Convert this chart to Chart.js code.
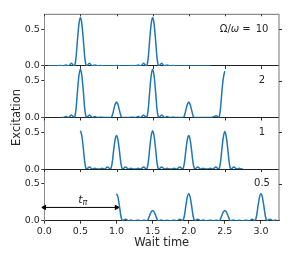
<!DOCTYPE html>
<html>
<head>
<meta charset="utf-8">
<script src="https://cdn.jsdelivr.net/npm/chart.js@4.4.0/dist/chart.umd.min.js"></script>
<style>
  body { margin: 0; background: #fff; }
  #wrap { position: relative; width: 291px; height: 262px; }
</style>
</head>
<body>
<div id="wrap"><canvas id="chart" width="291" height="262"></canvas></div>
<script>
// Omega/omega ratio for each panel, top to bottom
const panelLabels = ["10", "2", "1", "0.5"];
const xTicks = [0, 0.5, 1.0, 1.5, 2.0, 2.5, 3.0];

// panel 1: Omega/omega = 10
const panel1X = [0.05, 0.18, 0.22, 0.26, 0.3, 0.335, 0.375, 0.415, 0.425, 0.44, 0.46, 0.48, 0.5, 0.52, 0.54, 0.56, 0.575, 0.585, 0.625, 0.665, 0.7, 0.74, 0.78, 0.82, 0.95, 1.0, 1.05, 1.18, 1.22, 1.26, 1.3, 1.335, 1.375, 1.415, 1.425, 1.44, 1.46, 1.48, 1.5, 1.52, 1.54, 1.56, 1.575, 1.585, 1.625, 1.665, 1.7, 1.74, 1.78, 1.82, 2.3];
const panel1Y = [0, 0, 0.005, 0, 0.012, 0, 0.035, 0, 0.02, 0.12, 0.36, 0.57, 0.655, 0.57, 0.36, 0.12, 0.02, 0, 0.035, 0, 0.012, 0, 0.005, 0, 0, 0.004, 0, 0, 0.005, 0, 0.012, 0, 0.035, 0, 0.02, 0.12, 0.36, 0.57, 0.655, 0.57, 0.36, 0.12, 0.02, 0, 0.035, 0, 0.012, 0, 0.005, 0, 0];

// panel 2: Omega/omega = 2
const panel2X = [0.24, 0.26, 0.3, 0.335, 0.375, 0.415, 0.425, 0.44, 0.46, 0.48, 0.5, 0.52, 0.54, 0.56, 0.575, 0.585, 0.625, 0.665, 0.7, 0.74, 0.78, 0.82, 0.925, 0.94, 0.96, 0.98, 1.0, 1.02, 1.04, 1.06, 1.075, 1.18, 1.22, 1.26, 1.3, 1.335, 1.375, 1.415, 1.425, 1.44, 1.46, 1.48, 1.5, 1.52, 1.54, 1.56, 1.575, 1.585, 1.625, 1.665, 1.7, 1.74, 1.78, 1.82, 1.925, 1.94, 1.96, 1.98, 2.0, 2.02, 2.04, 2.06, 2.075, 2.3, 2.34, 2.38, 2.415, 2.425, 2.44, 2.46, 2.48, 2.5];
const panel2Y = [0, 0, 0.012, 0, 0.035, 0, 0.02, 0.12, 0.36, 0.57, 0.655, 0.57, 0.36, 0.12, 0.02, 0, 0.035, 0, 0.012, 0, 0.005, 0, 0, 0.025, 0.1, 0.175, 0.21, 0.175, 0.1, 0.025, 0, 0, 0.005, 0, 0.012, 0, 0.035, 0, 0.02, 0.12, 0.36, 0.57, 0.655, 0.57, 0.36, 0.12, 0.02, 0, 0.035, 0, 0.012, 0, 0.005, 0, 0, 0.025, 0.1, 0.175, 0.21, 0.175, 0.1, 0.025, 0, 0, 0.008, 0.025, 0, 0.02, 0.12, 0.36, 0.54, 0.63];

// panel 3: Omega/omega = 1
const panel3X = [0.5, 0.52, 0.54, 0.56, 0.575, 0.585, 0.625, 0.665, 0.7, 0.735, 0.765, 0.8, 0.835, 0.875, 0.915, 0.925, 0.94, 0.96, 0.98, 1.0, 1.02, 1.04, 1.06, 1.075, 1.085, 1.125, 1.165, 1.2, 1.235, 1.265, 1.3, 1.335, 1.375, 1.415, 1.425, 1.44, 1.46, 1.48, 1.5, 1.52, 1.54, 1.56, 1.575, 1.585, 1.625, 1.665, 1.7, 1.735, 1.765, 1.8, 1.835, 1.875, 1.915, 1.925, 1.94, 1.96, 1.98, 2.0, 2.02, 2.04, 2.06, 2.075, 2.085, 2.125, 2.165, 2.2, 2.235, 2.265, 2.3, 2.335, 2.375, 2.415, 2.425, 2.44, 2.46, 2.48, 2.5, 2.52, 2.54, 2.56, 2.575, 2.585, 2.625, 2.665, 2.7, 2.735, 2.75];
const panel3Y = [0.52, 0.45, 0.285, 0.095, 0.016, 0, 0.03, 0, 0.01, 0, 0, 0.01, 0, 0.03, 0, 0.014, 0.083, 0.25, 0.395, 0.455, 0.395, 0.25, 0.083, 0.014, 0, 0.03, 0, 0.01, 0, 0, 0.01, 0, 0.03, 0, 0.016, 0.095, 0.285, 0.45, 0.52, 0.45, 0.285, 0.095, 0.016, 0, 0.03, 0, 0.01, 0, 0, 0.01, 0, 0.03, 0, 0.014, 0.083, 0.25, 0.395, 0.455, 0.395, 0.25, 0.083, 0.014, 0, 0.03, 0, 0.01, 0, 0, 0.01, 0, 0.03, 0, 0.016, 0.093, 0.28, 0.44, 0.51, 0.44, 0.28, 0.093, 0.016, 0, 0.03, 0, 0.01, 0, 0];

// panel 4: Omega/omega = 0.5
const panel4X = [1.0, 1.02, 1.04, 1.06, 1.075, 1.085, 1.125, 1.165, 1.2, 1.24, 1.3, 1.34, 1.38, 1.43, 1.44, 1.46, 1.48, 1.5, 1.52, 1.54, 1.56, 1.57, 1.62, 1.66, 1.7, 1.74, 1.8, 1.84, 1.875, 1.915, 1.925, 1.94, 1.96, 1.98, 2.0, 2.02, 2.04, 2.06, 2.075, 2.085, 2.125, 2.165, 2.2, 2.24, 2.3, 2.34, 2.38, 2.43, 2.44, 2.46, 2.48, 2.5, 2.52, 2.54, 2.56, 2.57, 2.62, 2.66, 2.7, 2.74, 2.8, 2.84, 2.875, 2.915, 2.925, 2.94, 2.96, 2.98, 3.0, 3.02, 3.04, 3.06, 3.075, 3.085, 3.125, 3.165, 3.2, 3.22];
const panel4Y = [0.365, 0.32, 0.2, 0.067, 0.011, 0, 0.02, 0, 0.008, 0, 0.005, 0, 0.005, 0, 0.025, 0.075, 0.12, 0.14, 0.12, 0.075, 0.025, 0, 0.008, 0, 0.005, 0, 0.005, 0, 0.02, 0, 0.011, 0.067, 0.2, 0.32, 0.365, 0.32, 0.2, 0.067, 0.011, 0, 0.02, 0, 0.008, 0, 0.005, 0, 0.005, 0, 0.025, 0.075, 0.12, 0.14, 0.12, 0.075, 0.025, 0, 0.008, 0, 0.005, 0, 0.005, 0, 0.02, 0, 0.011, 0.067, 0.2, 0.32, 0.365, 0.32, 0.2, 0.067, 0.011, 0, 0.02, 0, 0.008, 0];

// t_pi arrow in the bottom panel
const arrowX = [0, 1.0];
const arrowY = [0.18, 0.18];

const lineBlue = "#1f77b4";
const textColor = "#262626";
const spineGrey = "#8c8c8c";
const font = "DejaVu Sans";

function toPoints(xs, ys) {
    return xs.map((x, i) => ({ x: x, y: ys[i] }));
}

function panelAxis(order) {
    return {
        type: "linear",
        position: "left",
        stack: "panels",
        stackWeight: 1,
        weight: 4 - order,
        offset: false,
        min: 0,
        max: 0.7,
        ticks: {
            stepSize: 0.5,
            includeBounds: false,
            padding: 1.5,
            color: textColor,
            font: { family: font, size: 9.5 },
            callback: v => v.toFixed(1)
        },
        grid: {
            color: c => (c.tick && c.tick.value === 0) ? "#222" : "rgba(0,0,0,0)",
            tickColor: "#333",
            tickLength: 3,
            lineWidth: 1
        },
        border: { color: spineGrey, width: 1 },
        afterFit: s => { s.width = 44.3; }
    };
}

const decorations = {
    id: "decorations",
    afterDraw(chart) {
        const { ctx, chartArea: a, scales } = chart;
        const xs = scales.x;
        const panels = ["y1", "y2", "y3", "y4"];
        ctx.save();

        // top and right frame
        ctx.strokeStyle = spineGrey;
        ctx.lineWidth = 1.2;
        ctx.beginPath();
        ctx.moveTo(a.left, a.top);
        ctx.lineTo(a.right, a.top);
        ctx.lineTo(a.right, a.bottom);
        ctx.stroke();

        // ticks: right side at 0.5, x ticks below each panel boundary and under the top spine
        ctx.strokeStyle = "#333";
        ctx.lineWidth = 1;
        ctx.beginPath();
        panels.forEach((id, i) => {
            const ys = scales[id];
            const yh = Math.round(ys.getPixelForValue(0.5)) + 0.5;
            ctx.moveTo(a.right, yh);
            ctx.lineTo(a.right + 3, yh);
            if (i < 3) {
                const y0 = ys.getPixelForValue(0);
                xTicks.forEach(t => {
                    const px = Math.round(xs.getPixelForValue(t)) + 0.5;
                    ctx.moveTo(px, y0);
                    ctx.lineTo(px, y0 + 3);
                });
            }
        });
        xTicks.forEach(t => {
            const px = Math.round(xs.getPixelForValue(t)) + 0.5;
            ctx.moveTo(px, a.top);
            ctx.lineTo(px, a.top + 2);
        });
        ctx.stroke();

        // panel labels
        ctx.fillStyle = textColor;
        ctx.textBaseline = "middle";
        panels.forEach((id, i) => {
            const ys = scales[id];
            const y = ys.getPixelForValue(0.5);
            ctx.font = "10px '" + font + "'";
            ctx.textAlign = "center";
            ctx.fillText(panelLabels[i], xs.getPixelForValue(3.015), y);
            if (i === 0) {
                ctx.textAlign = "left";
                let px = xs.getPixelForValue(2.43);
                const parts = [["Ω/", "normal"], ["ω", "italic"], [" =", "normal"]];
                parts.forEach(([txt, style]) => {
                    ctx.font = style + " 10px '" + font + "'";
                    ctx.fillText(txt, px, y);
                    px += ctx.measureText(txt).width;
                });
            }
        });

        // t_pi label
        const y4 = scales.y4;
        let tx = xs.getPixelForValue(0.47);
        const ty = y4.getPixelForValue(0.28);
        ctx.textAlign = "left";
        ctx.font = "italic 11px '" + font + "'";
        ctx.fillText("t", tx, ty);
        tx += ctx.measureText("t").width;
        ctx.font = "italic 8px '" + font + "'";
        ctx.fillText("π", tx, ty + 3);

        // shared y label
        ctx.font = "11.5px '" + font + "'";
        ctx.textAlign = "center";
        ctx.translate(17, (a.top + a.bottom) / 2);
        ctx.rotate(-Math.PI / 2);
        ctx.fillText("Excitation", 0, 0);
        ctx.restore();
    }
};

const lineStyle = {
    borderColor: lineBlue,
    backgroundColor: lineBlue,
    borderWidth: 1.5,
    pointRadius: 0,
    cubicInterpolationMode: "monotone",
    fill: false
};

new Chart(document.getElementById("chart").getContext("2d"), {
    type: "line",
    data: {
        datasets: [
            Object.assign({ label: "10", data: toPoints(panel1X, panel1Y), yAxisID: "y1" }, lineStyle),
            Object.assign({ label: "2", data: toPoints(panel2X, panel2Y), yAxisID: "y2" }, lineStyle),
            Object.assign({ label: "1", data: toPoints(panel3X, panel3Y), yAxisID: "y3" }, lineStyle),
            Object.assign({ label: "0.5", data: toPoints(panel4X, panel4Y), yAxisID: "y4" }, lineStyle),
            {
                label: "t_pi",
                data: toPoints(arrowX, arrowY),
                yAxisID: "y4",
                borderColor: "#000",
                backgroundColor: "#000",
                borderWidth: 1,
                pointStyle: "triangle",
                pointRadius: 2.5,
                pointRotation: [-90, 90],
                clip: 6
            }
        ]
    },
    options: {
        responsive: false,
        animation: false,
        events: [],
        layout: { padding: { top: 14.3, right: 12, bottom: 11.3, left: 0 } },
        plugins: { legend: { display: false }, tooltip: { enabled: false } },
        scales: {
            x: {
                type: "linear",
                position: "bottom",
                min: 0,
                max: 3.25,
                ticks: {
                    stepSize: 0.5,
                    includeBounds: false,
                    padding: 2,
                    color: textColor,
                    font: { family: font, size: 9.5 },
                    callback: v => v.toFixed(1)
                },
                grid: { drawOnChartArea: false, tickLength: 3, tickColor: "#333" },
                border: { color: "#222", width: 1 },
                title: {
                    display: true,
                    text: "Wait time",
                    color: textColor,
                    font: { family: font, size: 11.5 },
                    padding: { top: 0, bottom: 1 }
                },
                afterFit: s => { s.height = 30; }
            },
            y1: panelAxis(0),
            y2: panelAxis(1),
            y3: panelAxis(2),
            y4: panelAxis(3)
        }
    },
    plugins: [decorations]
});
</script>
</body>
</html>
